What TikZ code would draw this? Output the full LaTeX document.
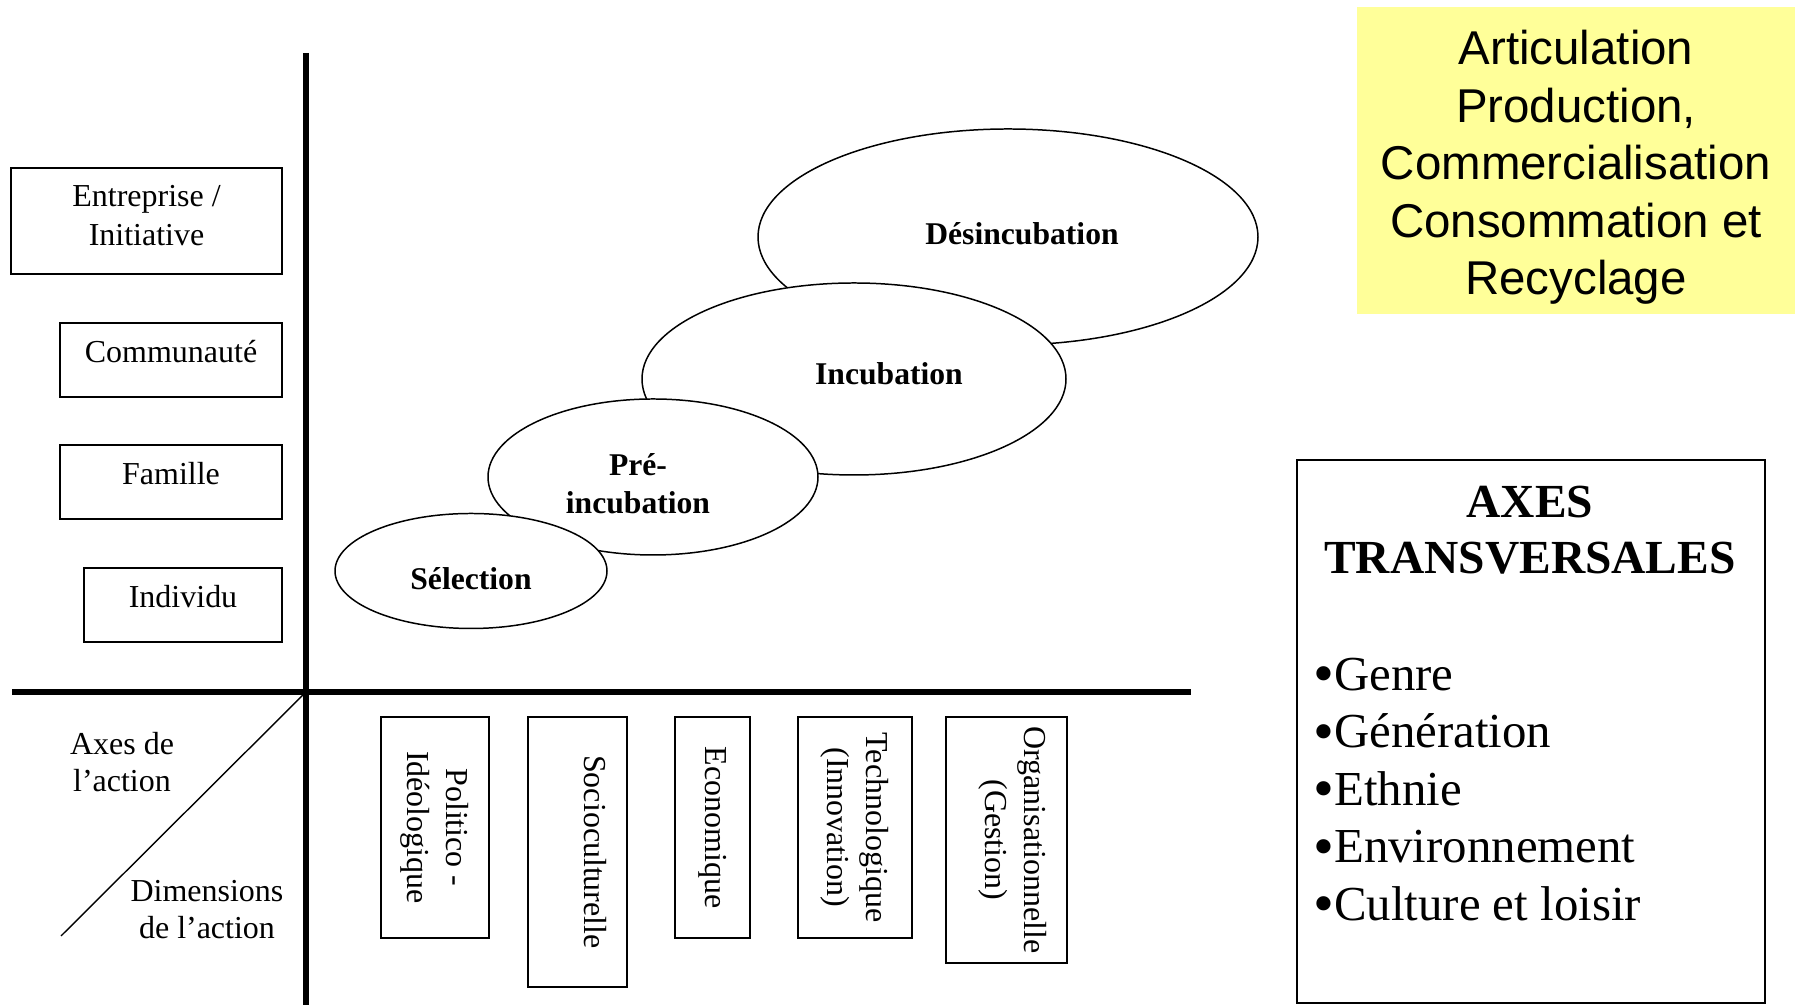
\documentclass[tikz,border=0pt]{standalone}
\usepackage{fontspec}
\setmainfont{Liberation Serif}
\newfontfamily\arialfont{Liberation Sans}
\usetikzlibrary{shapes.geometric}
\definecolor{noteyellow}{RGB}{255,255,153}
\newcommand{\bul}{\raisebox{-0.07em}{\scalebox{1.22}{•}}}

\begin{document}
\begin{tikzpicture}[
lvl/.style={%
draw, line width=1.1pt,
font=\fontsize{18.2}{22.2}\selectfont,
align=center, anchor=east
},
onel/.style={text height=0.5cm, text depth=0.38cm},
dim/.style={%
draw, line width=1.1pt,
font=\fontsize{18.2}{22.2}\selectfont,
align=center, rotate=-90, anchor=west
},
phase/.style={draw, ellipse, fill=white, line width=0.85pt},
phtxt/.style={font=\fontsize{18}{21.6}\selectfont\bfseries, align=center, inner sep=0pt},
lbl/.style={font=\fontsize{18.2}{21}\selectfont, align=center, inner sep=0pt},
axisline/.style={line width=3.7pt}
]
\useasboundingbox (0,0) rectangle (36.1,20.1);
%% Axes
\coordinate (o) at (6.12,6.26);
\coordinate (top) at (6.12,19.04);
\coordinate (bot) at (6.12,0);
\coordinate (lft) at (0.24,6.26);
\coordinate (rgt) at (23.82,6.26);
\coordinate (diag) at (1.22,1.38);
\draw[axisline](top)--(bot);
\draw[axisline](lft)--(rgt);
\draw[line width=0.8pt](o)--(diag);
\node[lbl]at(2.44,4.85)(axact){Axes de\\l’action};
\node[lbl]at(4.14,1.91)(dimact){Dimensions\\de l’action};
%% Levels
\node[lvl, text depth=0.23cm, minimum width=5.42cm, minimum height=2.12cm]at(5.66,15.68)(entr){Entreprise /\\Initiative};
\node[lvl, onel, minimum width=4.44cm, minimum height=1.48cm]at(5.66,12.90)(comm){Communauté};
\node[lvl, onel, minimum width=4.44cm, minimum height=1.48cm]at(5.66,10.46)(fam){Famille};
\node[lvl, onel, minimum width=3.96cm, minimum height=1.48cm]at(5.66,8.00)(indiv){Individu};
%% Dimensions
\node[dim, minimum width=4.42cm, minimum height=2.16cm]at(8.70,5.78)(polit){Politico -\\Idéologique};
\node[dim, text height=0.5cm, text depth=0.76cm, minimum width=5.40cm, minimum height=1.98cm]at(11.55,5.78)(socio){Socioculturelle};
\node[dim, minimum width=4.42cm, minimum height=1.50cm]at(14.25,5.78)(econ){Economique};
\node[dim, minimum width=4.42cm, minimum height=2.28cm]at(17.10,5.78)(techno){Technologique\\(Innovation)};
\node[dim, text depth=0.37cm, minimum width=4.92cm, minimum height=2.42cm]at(20.13,5.78)(organ){Organisationnelle\\(Gestion)};
%% Phases
\node[phase, minimum width=10cm, minimum height=4.32cm]at(20.16,15.36)(desinc){};
\node[phtxt]at(20.44,15.42)(desinct){Désincubation};
\node[phase, minimum width=8.48cm, minimum height=3.84cm]at(17.08,12.52)(incub){};
\node[phtxt]at(17.78,12.62)(incubt){Incubation};
\node[phase, minimum width=6.6cm, minimum height=3.12cm]at(13.06,10.56)(preinc){};
\node[phtxt]at(12.76,10.42)(preinct){Pré-\\incubation};
\node[phase, minimum width=5.44cm, minimum height=2.3cm]at(9.42,8.68)(select){};
\node[phtxt]at(9.42,8.52)(selectt){Sélection};
%% Articulation
\node[fill=noteyellow, minimum width=8.76cm, minimum height=6.14cm]at(31.52,16.89)(artic){};
\node[font=\arialfont\fontsize{27}{32.7}\selectfont, align=center, inner sep=0pt]at(31.52,16.75)(artict)
{Articulation\\Production,\\Commercialisation\\Consommation et\\Recyclage};
%% Transversal axes
\node[draw, line width=1.1pt, minimum width=9.36cm, minimum height=10.86cm]at(30.62,5.47)(axesbox){};
\node[font=\fontsize{27}{32}\selectfont\bfseries, align=center, inner sep=0pt]at(30.60,9.50)(axestitle){AXES\\TRANSVERSALES};
\node[font=\fontsize{27.8}{32.7}\selectfont, align=left, inner sep=0pt, anchor=west]at(26.26,4.28)(axeslist)
{\bul Genre\\\bul Génération\\\bul Ethnie\\\bul Environnement\\\bul Culture et loisir};
\end{tikzpicture}
\end{document}
